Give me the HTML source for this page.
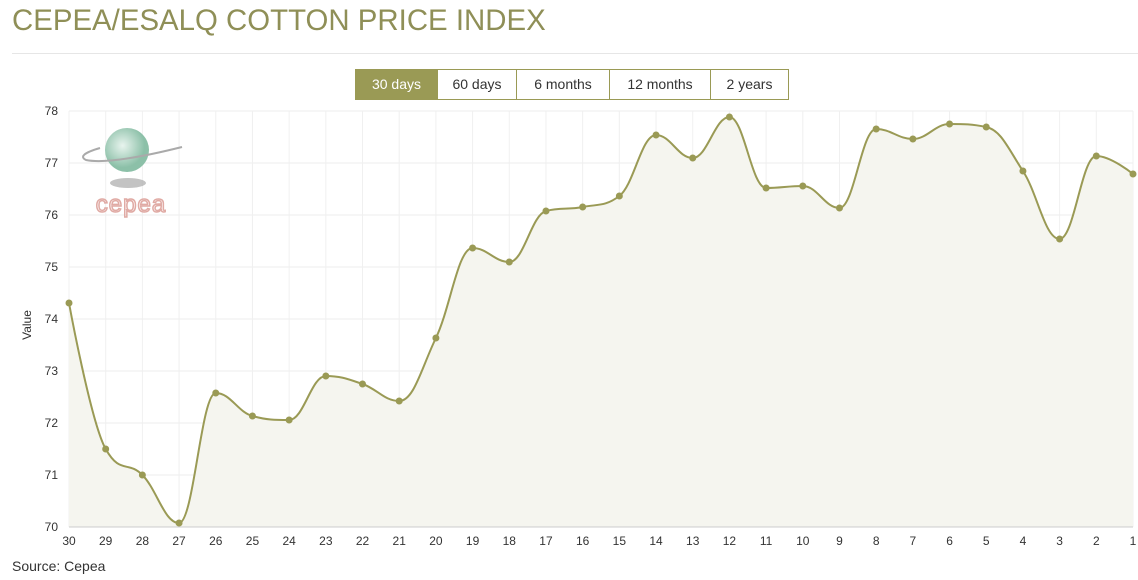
<!DOCTYPE html>
<html><head><meta charset="utf-8"><style>
body{margin:0;width:1138px;height:580px;background:#fff;font-family:"Liberation Sans",sans-serif;overflow:hidden;position:relative}
.title{position:absolute;left:12px;top:4px;font-size:30px;color:#8f8f57;transform:scaleX(0.98);transform-origin:left}
.hr{position:absolute;left:12px;right:0;top:53px;border-top:1px solid #e6e6e6}
.btns{position:absolute;left:355px;top:69px;display:flex;border:1px solid #9a9a55;height:29px}
.btns div{border-left:1px solid #9a9a55;font-size:14px;color:#333;line-height:29px;text-align:center}
.btns div:first-child{border-left:none;background:#9a9a55;color:#fff}
.src{position:absolute;left:12px;top:558px;font-size:14px;color:#333}
svg{position:absolute;left:0;top:0}
</style></head><body>
<div class="title">CEPEA/ESALQ COTTON PRICE INDEX</div>
<div class="hr"></div>
<svg id="s" width="1138" height="580"></svg>
<div class="btns"><div style="width:81px">30 days</div><div style="width:78px">60 days</div><div style="width:92px">6 months</div><div style="width:100px">12 months</div><div style="width:77px">2 years</div></div>
<div class="src">Source: Cepea</div>
<script>
const s=document.getElementById('s');
const X0=69,X1=1133,T=111,B=527;
const labels=[30,29,28,27,26,25,24,23,22,21,20,19,18,17,16,15,14,13,12,11,10,9,8,7,6,5,4,3,2,1];
const ys=[303,449,475,523,393,416,420,376,384,401,338,248,262,211,207,196,135,158,117,188,186,208,129,139,124,127,171,239,156,174];
const dx=(X1-X0)/29;
let h='';
for(let i=0;i<=8;i++){let y=B-i*52;h+=`<line x1="${X0}" x2="${X1}" y1="${y}" y2="${y}" stroke="#ececec"/><text x="58" y="${y+4}" font-size="12" text-anchor="end" fill="#333">${70+i}</text>`;}
for(let i=0;i<30;i++){let x=X0+i*dx;h+=`<line x1="${x}" x2="${x}" y1="${T}" y2="${B}" stroke="#f0f0f0"/><text x="${x}" y="545" font-size="12" text-anchor="middle" fill="#333">${labels[i]}</text>`;}
h+=`<text transform="translate(31,325) rotate(-90)" font-size="12" text-anchor="middle" fill="#333">Value</text>`;
const P=ys.map((y,i)=>({x:X0+i*dx,y}));
for(let i=1;i<P.length-1;i++){const p=P[i],l=P[i-1],n=P[i+1];
let lx=(1.5*p.x+l.x)/2.5,ly=(1.5*p.y+l.y)/2.5,rx=(1.5*p.x+n.x)/2.5,ry=(1.5*p.y+n.y)/2.5;
let c=((ry-ly)*(rx-p.x))/(rx-lx)+p.y-ry;ly+=c;ry+=c;
if(ly>l.y&&ly>p.y){ly=Math.max(l.y,p.y);ry=2*p.y-ly}else if(ly<l.y&&ly<p.y){ly=Math.min(l.y,p.y);ry=2*p.y-ly}
if(ry>n.y&&ry>p.y){ry=Math.max(n.y,p.y);ly=2*p.y-ry}else if(ry<n.y&&ry<p.y){ry=Math.min(n.y,p.y);ly=2*p.y-ry}
p.lx=lx;p.ly=ly;p.rx=rx;p.ry=ry;}
let d=`M${P[0].x} ${P[0].y}`;
for(let i=1;i<P.length;i++){const a=P[i-1],b=P[i];d+=` C${a.rx??a.x} ${a.ry??a.y} ${b.lx??b.x} ${b.ly??b.y} ${b.x} ${b.y}`;}
h+=`<path d="${d} L${X1} ${B} L${X0} ${B}Z" fill="#f5f5ef"/>`;
h+=`<path d="${d}" fill="none" stroke="#9a9a55" stroke-width="2"/>`;
P.forEach(p=>h+=`<circle cx="${p.x}" cy="${p.y}" r="3.5" fill="#9a9a55"/>`);
h+=`<line x1="${X0}" x2="${X1}" y1="${B}" y2="${B}" stroke="#ccc"/>`;
h+=`<defs><radialGradient id="g" cx="0.4" cy="0.4"><stop offset="0" stop-color="#e8f4ee"/><stop offset="1" stop-color="#8cc0a8"/></radialGradient></defs>
<ellipse cx="128" cy="183" rx="18" ry="5" fill="#aaa" opacity="0.7"/>
<circle cx="127" cy="150" r="22" fill="url(#g)"/>
<path d="M182 147 Q110 165 86 160 Q76 155 100 148" fill="none" stroke="#aaa" stroke-width="2"/>
<text x="131" y="212" font-size="24" text-anchor="middle" fill="none" stroke="#e0aaa4" stroke-width="1.5" font-family="Liberation Sans" letter-spacing="1">cepea</text>`;
s.innerHTML=h;
</script>
</body></html>
